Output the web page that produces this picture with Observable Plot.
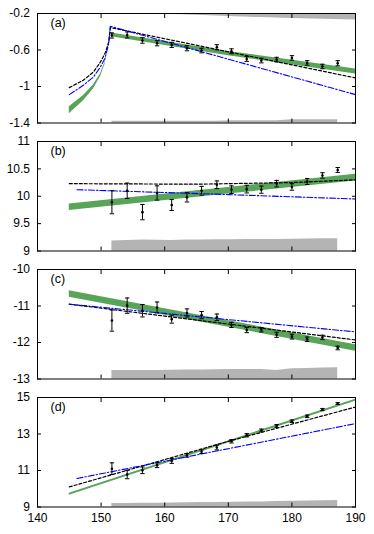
<!DOCTYPE html>
<html>
<head>
<meta charset="utf-8">
<script src="https://cdn.jsdelivr.net/npm/d3@7"></script>
<script src="https://cdn.jsdelivr.net/npm/@observablehq/plot@0.6"></script>
<style>
  html, body { margin: 0; padding: 0; background: white; }
  #chart svg { display: block; }
</style>
</head>
<body>
<div id="chart"></div>
<script>
// ---- data ----
const xs = [151.7,154.1,156.5,158.8,161.1,163.5,165.8,168.2,170.5,172.9,175.2,177.6,180.0,182.4,184.8,187.2];

// panel (a)
const aVal = [-0.441,-0.435,-0.496,-0.526,-0.544,-0.581,-0.606,-0.570,-0.614,-0.698,-0.716,-0.705,-0.687,-0.742,-0.781,-0.745];
const aErr = [0.028,0.033,0.030,0.028,0.028,0.028,0.025,0.028,0.027,0.027,0.025,0.025,0.025,0.025,0.025,0.028];
const aBlackX = [145,147.2,148.8,149.9,150.6,151.2,151.45,190];
const aBlackY = [-1.012,-0.932,-0.841,-0.731,-0.640,-0.512,-0.354,-0.906];
const aBlueX = [145,147.2,148.8,149.9,150.6,151.2,151.45,190];
const aBlueY = [-1.089,-0.987,-0.895,-0.786,-0.694,-0.530,-0.340,-1.089];
const aGreenLX = [145,147.2,148.8,149.9,150.6,151.2,151.5];
const aGreenLY = [-1.26,-1.13,-1.005,-0.877,-0.75,-0.53,-0.39];
const aGreenLW = [0.038,0.03,0.022,0.016,0.012,0.008,0.006];
const aGreenRX = [151.6,170,190];
const aGreenRY = [-0.435,-0.640,-0.835];
const aGreenRW = [0.02,0.024,0.028];
const aBandBot = [0.018,0.018,0.018,0.018,0.018,0.018,0.018,0.02,0.025,0.025,0.025,0.026,0.035,0.035,0.035,0.035];
const aTopX = [158,165,170,175,180,185,190];
const aTopH = [0.003,0.02,0.033,0.045,0.055,0.064,0.072];

// panel (b)
const bVal = [9.89,10.10,9.71,10.06,9.84,9.98,10.10,10.21,10.12,10.13,10.12,10.23,10.17,10.27,10.38,10.48];
const bErr = [0.21,0.14,0.14,0.13,0.10,0.085,0.08,0.07,0.07,0.07,0.065,0.06,0.06,0.055,0.05,0.045];
const bBlackX = [145,165,180,190], bBlackY = [10.23,10.22,10.25,10.30];
const bBlueX = [146.2,170,190], bBlueY = [10.12,10.03,9.95];
const bGreenX = [145,170,190], bGreenY = [9.80,10.10,10.34], bGreenW = [0.06,0.06,0.06];
const bBand = [9.183,9.19,9.201,9.195,9.19,9.2,9.203,9.205,9.207,9.208,9.21,9.212,9.215,9.218,9.222,9.225];

// panel (c)
const cVal = [-11.40,-10.99,-11.13,-11.04,-11.36,-11.19,-11.25,-11.31,-11.52,-11.66,-11.65,-11.79,-11.84,-11.91,-11.86,-12.15];
const cErr = [0.29,0.21,0.17,0.15,0.11,0.11,0.10,0.09,0.07,0.07,0.06,0.07,0.065,0.06,0.06,0.05];
const cBlackX = [145,190], cBlackY = [-10.95,-11.93];
const cBlueX = [145,190], cBlueY = [-10.95,-11.71];
const cGreenX = [145,190], cGreenY = [-10.67,-12.15], cGreenW = [0.09,0.09];
const cBand = [-12.77,-12.77,-12.768,-12.765,-12.76,-12.754,-12.75,-12.745,-12.74,-12.737,-12.74,-12.77,-12.72,-12.71,-12.70,-12.69];

// panel (d)
const dVal = [11.10,10.78,11.01,11.29,11.52,11.83,12.03,12.26,12.60,12.93,13.19,13.44,13.70,13.97,14.34,14.67];
const dErr = [0.32,0.23,0.18,0.13,0.13,0.10,0.10,0.13,0.09,0.09,0.08,0.08,0.07,0.07,0.06,0.05];
const dBlackX = [145,170,190], dBlackY = [10.10,12.60,14.48];
const dBlueX = [146.2,190], dBlueY = [10.56,13.57];
const dGreenX = [145,190], dGreenY = [9.70,14.85], dGreenW = [0.06,0.06];
const dBand = [9.185,9.19,9.2,9.21,9.22,9.23,9.24,9.25,9.26,9.27,9.28,9.295,9.31,9.325,9.34,9.35];

const xTicks = [140,150,160,170,180,190];

// ---- helpers ----
const GREEN = "#58a458", GRAY = "#b4b4b4";
const zip = (X, Y) => X.map((x, i) => ({x, y: Y[i]}));
const capSymbol = {draw(ctx) { ctx.moveTo(-2.2, 0); ctx.lineTo(2.2, 0); }};

function pts(vals, errs) {
  return xs.map((x, i) => ({x, y: vals[i], lo: vals[i] - errs[i], hi: vals[i] + errs[i]}));
}
function greenBand(X, Y, W) {
  return Plot.areaY(X.map((x, i) => ({x, lo: Y[i] - W[i], hi: Y[i] + W[i]})),
    {x: "x", y1: "lo", y2: "hi", fill: GREEN});
}
function errMarks(vals, errs) {
  const P = pts(vals, errs);
  return [
    Plot.ruleX(P, {x: "x", y1: "lo", y2: "hi", stroke: "black", strokeWidth: 1}),
    Plot.dot(P, {x: "x", y: "lo", symbol: capSymbol, stroke: "black", strokeWidth: 1, r: 2}),
    Plot.dot(P, {x: "x", y: "hi", symbol: capSymbol, stroke: "black", strokeWidth: 1, r: 2}),
    Plot.dot(P, {x: "x", y: "y", r: 1.3, fill: "black"})
  ];
}
function black(X, Y) {
  return Plot.line(zip(X, Y), {x: "x", y: "y", stroke: "black", strokeWidth: 1.2, strokeDasharray: "3,2"});
}
function blue(X, Y) {
  return Plot.line(zip(X, Y), {x: "x", y: "y", stroke: "#0000ff", strokeWidth: 1.1, strokeDasharray: "6,2,1.5,2"});
}
function bottomBand(tops, base) {
  return Plot.areaY(xs.map((x, i) => ({x, y: tops[i]})), {x: "x", y1: base, y2: "y", fill: GRAY});
}

function panel({domain, ticks, label, marks, bottom}) {
  return Plot.plot({
    width: 374,
    height: bottom ? 150 : 128,
    marginLeft: 37, marginRight: 19, marginTop: 13, marginBottom: bottom ? 27.5 : 5.5,
    x: {domain: [140, 190], label: null},
    y: {domain, label: null},
    style: {fontFamily: "'Liberation Sans', Arial, sans-serif", fontSize: "12px", color: "black", background: "white", overflow: "visible"},
    marks: [
      ...marks,
      Plot.text([label], {frameAnchor: "top-left", dx: 13, dy: 5, lineAnchor: "top", textAnchor: "start", fontSize: 12.5, text: d => d}),
      Plot.frame({stroke: "black", strokeWidth: 1}),
      Plot.axisY({anchor: "left", ticks, tickSize: -4, tickPadding: 11.5, tickFormat: d => String(d), fontSize: 12}),
      Plot.axisY({anchor: "right", ticks, tickSize: -4, fill: "none"}),
      Plot.axisX({anchor: "top", ticks: xTicks, tickSize: -4, fill: "none"}),
      bottom
        ? Plot.axisX({anchor: "bottom", ticks: xTicks, tickSize: -4, tickPadding: 10, tickFormat: d => String(d), fontSize: 12})
        : Plot.axisX({anchor: "bottom", ticks: xTicks, tickSize: -4, fill: "none"})
    ]
  });
}

const root = document.getElementById("chart");

root.append(panel({
  domain: [-1.4, -0.2], ticks: [-1.4, -1, -0.6, -0.2], label: "(a)",
  marks: [
    Plot.areaY(aTopX.map((x, i) => ({x, y: -0.2 - aTopH[i]})), {x: "x", y1: -0.2, y2: "y", fill: GRAY}),
    bottomBand(xs.map((x, i) => -1.4 + aBandBot[i]), -1.4),
    greenBand(aGreenLX, aGreenLY, aGreenLW),
    greenBand(aGreenRX, aGreenRY, aGreenRW),
    black(aBlackX, aBlackY),
    blue(aBlueX, aBlueY),
    ...errMarks(aVal, aErr)
  ]
}));

root.append(panel({
  domain: [9, 11], ticks: [9, 9.5, 10, 10.5, 11], label: "(b)",
  marks: [
    bottomBand(bBand, 9),
    greenBand(bGreenX, bGreenY, bGreenW),
    black(bBlackX, bBlackY),
    blue(bBlueX, bBlueY),
    ...errMarks(bVal, bErr)
  ]
}));

root.append(panel({
  domain: [-13, -10], ticks: [-13, -12, -11, -10], label: "(c)",
  marks: [
    bottomBand(cBand, -13),
    greenBand(cGreenX, cGreenY, cGreenW),
    black(cBlackX, cBlackY),
    blue(cBlueX, cBlueY),
    ...errMarks(cVal, cErr)
  ]
}));

root.append(panel({
  domain: [9, 15], ticks: [9, 11, 13, 15], label: "(d)", bottom: true,
  marks: [
    bottomBand(dBand, 9),
    greenBand(dGreenX, dGreenY, dGreenW),
    black(dBlackX, dBlackY),
    blue(dBlueX, dBlueY),
    ...errMarks(dVal, dErr)
  ]
}));
</script>
</body>
</html>
